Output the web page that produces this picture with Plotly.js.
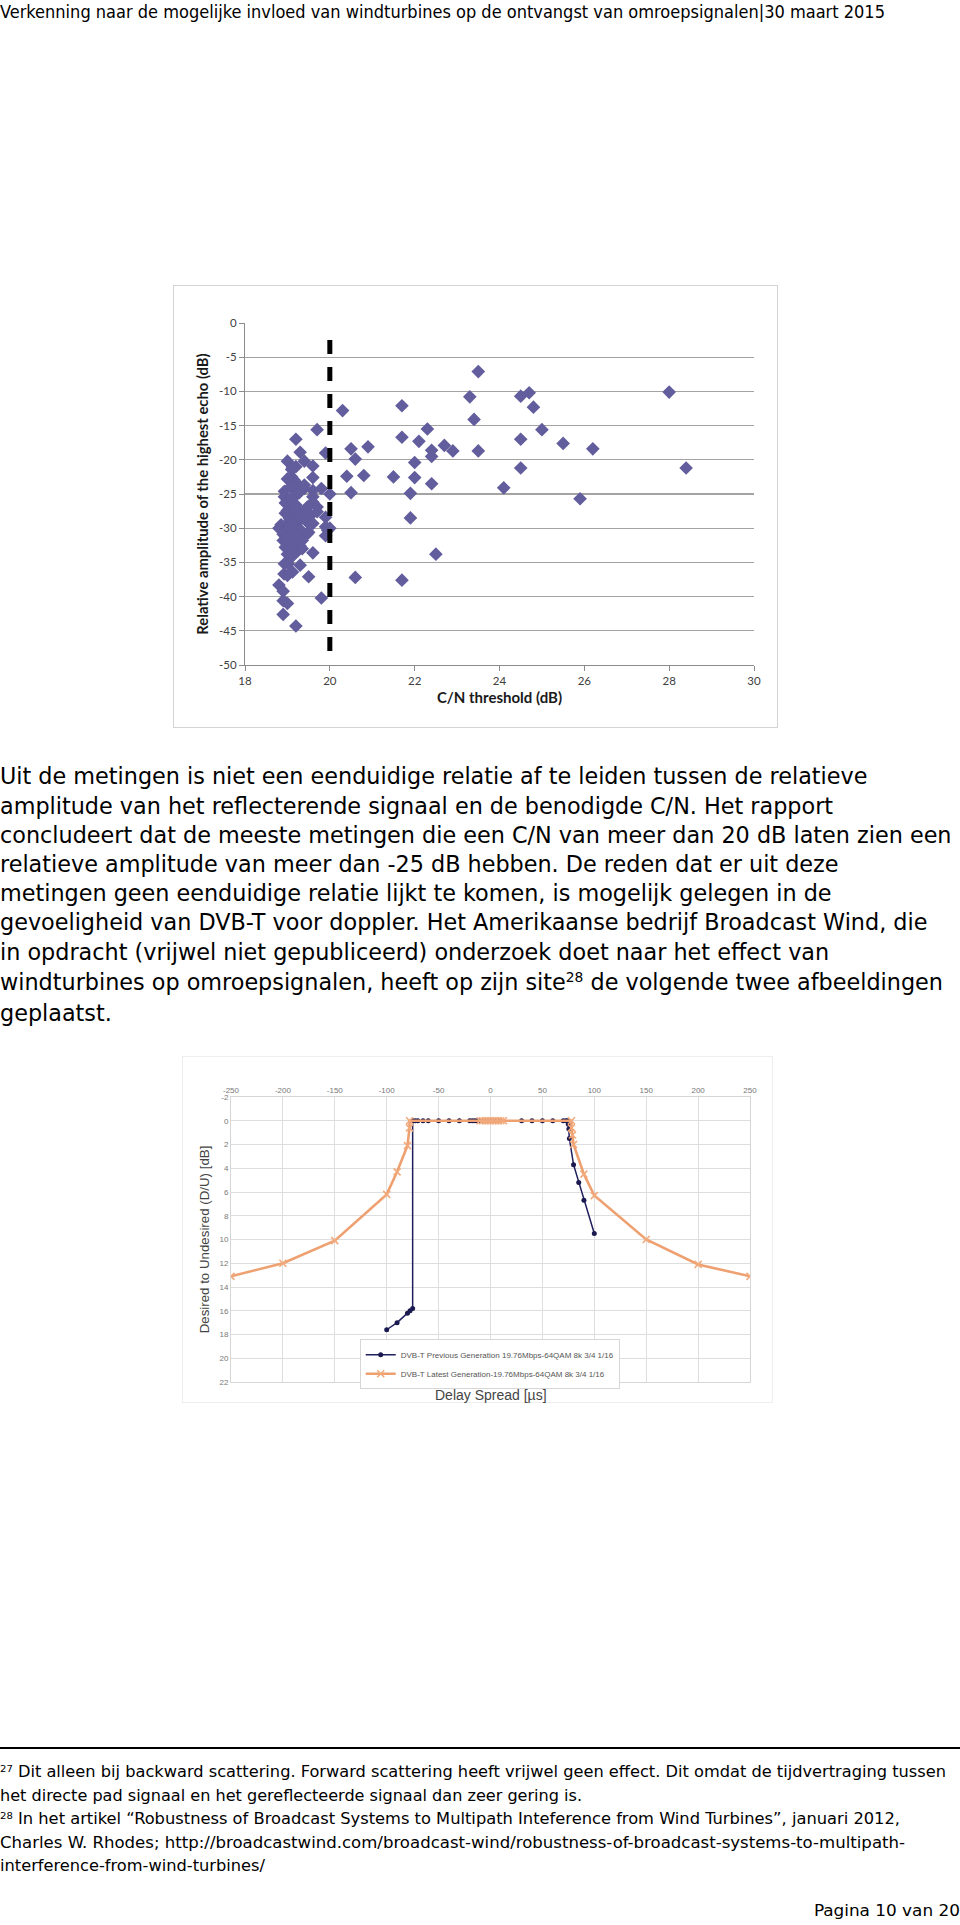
<!DOCTYPE html>
<html><head><meta charset="utf-8">
<script src="https://cdn.plot.ly/plotly-3.0.1.min.js"></script>
<style>
html,body{margin:0;padding:0;background:#fff;}
body{width:960px;height:1925px;position:relative;overflow:hidden;}
.ln{position:absolute;left:0;white-space:nowrap;color:#000;transform-origin:0 50%;}
.hdr,.fn{font-family:"DejaVu Sans Condensed","Liberation Sans Narrow","DejaVu Sans",sans-serif;}
.bd{font-family:"DejaVu Sans",Verdana,sans-serif;}
sup{font-size:0.62em;vertical-align:0.55em;line-height:0;}
.frame{position:absolute;box-sizing:border-box;}
.chart{position:absolute;}
</style></head>
<body>
<div id="hdr" class="ln hdr" style="top:1px;font-size:17px;line-height:22px;">Verkenning naar de mogelijke invloed van windturbines op de ontvangst van omroepsignalen|30 maart 2015</div>

<div class="frame" style="left:173px;top:285px;width:605px;height:443px;border:1px solid #d4d4d4;"></div>
<div id="c1" class="chart" style="left:173px;top:285px;width:605px;height:443px;"></div>

<div id="body"></div>

<div class="frame" style="left:182px;top:1056px;width:591px;height:347px;border:1px solid #eeeeee;"></div>
<div id="c2" class="chart" style="left:182px;top:1056px;width:591px;height:360px;"></div>

<div style="position:absolute;left:0;top:1747px;width:960px;height:2px;background:#000;"></div>
<div id="fnbox"></div>
<div id="pag" class="ln fn" style="left:auto;right:0;top:1900px;font-size:15px;line-height:22px;transform-origin:100% 50%;">Pagina 10 van 20</div>

<script>
// ---------------- Chart 1 data ----------------
const cnThreshold = [
 19.7,19.2,19.3,19.9,19.0,19.4,19.12,19.2,19.6,19.1,19.1,19.6,19.15,19.0,19.2,19.1,18.93,19.1,19.2,19.4,
 19.4,19.8,19.6,20.0,18.93,19.2,19.6,19.0,18.95,19.1,19.2,19.6,19.47,19.7,19.0,18.95,19.1,19.3,19.4,19.55,
 19.7,19.9,19.05,19.2,19.3,19.45,18.85,19.0,19.15,19.6,19.9,18.8,19.0,19.1,19.2,19.3,19.47,19.95,20.0,18.9,
 19.05,19.15,19.25,19.35,19.9,18.9,19.0,19.1,19.2,19.3,18.95,19.05,19.15,19.25,19.35,19.0,19.1,19.6,18.93,19.02,
 19.3,18.92,19.0,19.12,19.5,18.8,18.9,18.9,19.0,19.8,18.9,19.2,19.5,19.25,19.1,18.98,19.18,19.28,
 20.3,20.5,20.4,20.5,20.6,20.6,20.8,20.9,21.5,21.7,21.7,21.7,21.9,21.9,22.0,22.0,22.1,22.3,22.4,22.4,
 22.4,22.5,22.7,22.9,23.3,23.4,23.5,23.5,24.1,24.5,24.5,24.5,24.7,24.8,25.0,25.5,25.9,26.2,28.0,28.4
];
const echoAmplitude = [
 -15.6,-17.0,-18.9,-19.0,-20.2,-20.2,-21.1,-21.0,-20.9,-21.4,-22.5,-22.6,-22.9,-22.8,-23.3,-23.8,-24.6,-24.0,-24.4,-24.2,
 -23.7,-24.2,-24.5,-25.0,-25.4,-25.2,-25.4,-25.9,-26.3,-26.1,-26.6,-26.2,-26.9,-26.9,-27.4,-27.8,-27.2,-27.9,-27.5,-28.1,
 -27.6,-28.4,-28.6,-28.3,-28.8,-29.0,-29.5,-29.3,-29.4,-29.3,-29.8,-30.0,-30.1,-30.4,-30.0,-30.2,-30.8,-30.3,-30.0,-30.9,
 -31.0,-31.3,-31.0,-31.8,-31.1,-31.8,-32.0,-32.3,-32.0,-32.6,-32.8,-33.1,-33.0,-33.3,-33.0,-33.8,-34.2,-33.6,-35.2,-35.2,
 -35.4,-36.7,-36.9,-36.4,-37.1,-38.3,-39.2,-40.6,-41.0,-40.2,-42.6,-44.3,-30.6,-28.0,-25.6,-31.4,-27.0,-24.8,
 -12.8,-18.4,-22.4,-24.8,-19.9,-37.2,-22.3,-18.1,-22.5,-12.1,-16.7,-37.6,-24.9,-28.5,-20.4,-22.6,-17.3,-15.5,-18.6,-19.5,
 -23.5,-33.8,-17.9,-18.7,-10.8,-14.1,-7.1,-18.7,-24.1,-10.7,-17.0,-21.2,-10.2,-12.3,-15.6,-17.6,-25.7,-18.4,-10.1,-21.2
];
const thresholdLineX = [20, 20];
const thresholdLineY = [-2.5, -48];
const cnTickVals = [18, 20, 22, 24, 26, 28, 30];
const cnTickText = ['18', '20', '22', '24', '26', '28', '30'];
const ampTickVals = [0, -5, -10, -15, -20, -25, -30, -35, -40, -45, -50];
const ampTickText = ['0', '-5', '-10', '-15', '-20', '-25', '-30', '-35', '-40', '-45', '-50'];

// ---------------- Chart 2 data ----------------
const prevDelay = [-100,-90,-80,-77.5,-75,-75,-72.5,-70,-65,-60,-50,-40,-30,-20,-17.5,-15,-12.5,-10,-7.5,-5,-2.5,0,2.5,5,7.5,10,30,40,50,60,70,72.5,74,75,75.5,76,80,85,90,100];
const prevDU    = [17.6,17.0,16.2,16.0,15.8,0,0,0,0,0,0,0,0,0,0,0,0,0,0,0,0,0,0,0,0,0,0,0,0,0,0,0,0,0.3,0.7,1.5,3.7,5.2,6.7,9.5];
const latestDelay = [-250,-200,-150,-100,-90,-80,-78,-78,-10,-7.5,-5,-2.5,0,2.5,5,7.5,10,12.5,78,78,79,80,90,100,150,200,250];
const latestDU    = [13.1,12.0,10.1,6.2,4.3,2.1,0.6,0,0,0,0,0,0,0,0,0,0,0,0,0.6,1.2,2.0,4.5,6.3,10.0,12.1,13.1];
const delayTickVals = [-250,-200,-150,-100,-50,0,50,100,150,200,250];
const delayTickText = ['-250','-200','-150','-100','-50','0','50','100','150','200','250'];
const duTickVals = [-2,0,2,4,6,8,10,12,14,16,18,20,22];
const duTickText = ['-2','0','2','4','6','8','10','12','14','16','18','20','22'];
const prevName = 'DVB-T Previous Generation 19.76Mbps-64QAM 8k 3/4 1/16';
const latestName = 'DVB-T Latest Generation-19.76Mbps-64QAM 8k 3/4 1/16';

// ---------------- Text ----------------
const bodyLines = [
 'Uit de metingen is niet een eenduidige relatie af te leiden tussen de relatieve',
 'amplitude van het reflecterende signaal en de benodigde C/N. Het rapport',
 'concludeert dat de meeste metingen die een C/N van meer dan 20 dB laten zien een',
 'relatieve amplitude van meer dan -25 dB hebben. De reden dat er uit deze',
 'metingen geen eenduidige relatie lijkt te komen, is mogelijk gelegen in de',
 'gevoeligheid van DVB-T voor doppler. Het Amerikaanse bedrijf Broadcast Wind, die',
 'in opdracht (vrijwel niet gepubliceerd) onderzoek doet naar het effect van',
 'windturbines op omroepsignalen, heeft op zijn site<sup>28</sup> de volgende twee afbeeldingen',
 'geplaatst.'
];
const footLines = [
 '<sup>27</sup> Dit alleen bij backward scattering. Forward scattering heeft vrijwel geen effect. Dit omdat de tijdvertraging tussen',
 'het directe pad signaal en het gereflecteerde signaal dan zeer gering is.',
 '<sup>28</sup> In het artikel \u201cRobustness of Broadcast Systems to Multipath Inteference from Wind Turbines\u201d, januari 2012,',
 'Charles W. Rhodes; http://broadcastwind.com/broadcast-wind/robustness-of-broadcast-systems-to-multipath-',
 'interference-from-wind-turbines/'
];

// body text
const bodyCenters = [776, 805.5, 834.5, 863.5, 893, 922, 951.5, 982, 1012.5];
const bodyBox = document.getElementById('body');
const bodyEls = bodyLines.map((t, i) => {
  const d = document.createElement('div');
  d.className = 'ln bd';
  d.style.fontSize = '18px';
  d.style.lineHeight = '28px';
  d.style.top = (bodyCenters[i] - 14) + 'px';
  d.innerHTML = t;
  bodyBox.appendChild(d);
  return d;
});
const w0 = bodyEls[0].getBoundingClientRect().width;
const fsBody = 18 * 868 / w0;
bodyEls.forEach(d => d.style.fontSize = fsBody + 'px');

// footnotes
const fnCenters = [1772, 1795.5, 1819, 1843, 1866];
const fnTargets = [946, 582, 900, 905, 265];
const fnBox = document.getElementById('fnbox');
footLines.forEach((t, i) => {
  const d = document.createElement('div');
  d.className = 'ln fn';
  d.style.fontSize = '15px';
  d.style.lineHeight = '22px';
  d.style.top = (fnCenters[i] - 11) + 'px';
  d.innerHTML = t;
  fnBox.appendChild(d);
  const w = d.getBoundingClientRect().width;
  d.style.transform = 'scaleX(' + (fnTargets[i] / w) + ')';
});
(function(){
  const h = document.getElementById('hdr');
  const w = h.getBoundingClientRect().width;
  h.style.transform = 'scaleX(' + (885 / w) + ')';
  const p = document.getElementById('pag');
  const wp = p.getBoundingClientRect().width;
  p.style.transform = 'scaleX(' + (146 / wp) + ')';
})();

// ---------------- Chart 1 ----------------
const c1Font = 'Lato, "Open Sans", "DejaVu Sans", sans-serif';
Plotly.newPlot('c1', [
  {x: cnThreshold, y: echoAmplitude, type: 'scatter', mode: 'markers',
   marker: {symbol: 'diamond', size: 10.5, color: '#625d9c', line: {width: 0}}, hoverinfo: 'skip'},
  {x: thresholdLineX, y: thresholdLineY, type: 'scatter', mode: 'lines',
   line: {color: '#000', width: 5, dash: '14px,13px'}, hoverinfo: 'skip'}
], {
  width: 605, height: 443, margin: {l: 72, r: 24, t: 38, b: 63},
  paper_bgcolor: 'rgba(0,0,0,0)', plot_bgcolor: 'rgba(0,0,0,0)', showlegend: false,
  font: {family: c1Font, size: 11, color: '#404040'},
  xaxis: {range: [18, 30], tickvals: cnTickVals, ticktext: cnTickText, showgrid: false, zeroline: false,
          showline: true, linecolor: '#8c8c8c', linewidth: 1, ticks: 'outside', ticklen: 5, tickcolor: '#8c8c8c',
          tickfont: {size: 11.5, color: '#404040'},
          title: {text: '<b>C/N threshold (dB)</b>', font: {size: 15, color: '#1a1a1a', family: c1Font}, standoff: 6}},
  yaxis: {range: [-50, 0], tickvals: ampTickVals, ticktext: ampTickText, showgrid: true, gridcolor: '#a3a3a3', gridwidth: 1.3,
          zeroline: false, showline: true, linecolor: '#8c8c8c', linewidth: 1, ticks: 'outside', ticklen: 5, tickcolor: '#8c8c8c',
          tickfont: {size: 11.5, color: '#404040'},
          title: {text: '<b>Relative amplitude of the highest echo (dB)</b>', font: {size: 14.8, color: '#1a1a1a', family: c1Font}, standoff: 6}}
}, {displayModeBar: false, staticPlot: true});

// ---------------- Chart 2 ----------------
const c2Font = '"Liberation Sans", Arial, sans-serif';
Plotly.newPlot('c2', [
  {x: prevDelay, y: prevDU, type: 'scatter', mode: 'lines+markers', name: prevName,
   line: {color: '#1f1f5e', width: 1.5}, marker: {symbol: 'circle', size: 5, color: '#1a1a50'}, hoverinfo: 'skip'},
  {x: latestDelay, y: latestDU, type: 'scatter', mode: 'lines+markers', name: latestName,
   line: {color: '#eea070', width: 2.6}, marker: {symbol: 'x-thin-open', size: 7, color: '#f2aa7c', line: {width: 1.6, color: '#f2aa7c'}}, hoverinfo: 'skip'}
], {
  width: 591, height: 360, margin: {l: 49, r: 23, t: 40.5, b: 33.5},
  paper_bgcolor: 'rgba(0,0,0,0)', plot_bgcolor: 'rgba(0,0,0,0)',
  font: {family: c2Font, size: 8, color: '#777'},
  xaxis: {side: 'top', range: [-250, 250], tickvals: delayTickVals, ticktext: delayTickText, showgrid: true, gridcolor: '#dedede',
          zeroline: false, showline: true, mirror: true, linecolor: '#d6d6d6', ticks: '', tickfont: {size: 8, color: '#777'}},
  yaxis: {range: [22, -2], tickvals: duTickVals, ticktext: duTickText, showgrid: true, gridcolor: '#dedede',
          zeroline: false, showline: true, mirror: true, linecolor: '#d6d6d6', ticks: '', tickfont: {size: 8, color: '#777'},
          title: {text: 'Desired to Undesired (D/U) [dB]', font: {size: 13.3, color: '#444', family: c2Font}, standoff: 6}},
  showlegend: true,
  legend: {x: 0.248, y: 0.15, xanchor: 'left', yanchor: 'top', bgcolor: '#fff', bordercolor: '#d6d6d6', borderwidth: 1,
           font: {size: 8, color: '#555', family: c2Font}, tracegroupgap: 0, itemwidth: 30},
  annotations: [{text: 'Delay Spread [\u00b5s]', xref: 'paper', yref: 'paper', x: 0.5, y: 0, yanchor: 'top', yshift: -3,
                 showarrow: false, font: {size: 14, color: '#444', family: c2Font}}]
}, {displayModeBar: false, staticPlot: true});
</script>
</body></html>
